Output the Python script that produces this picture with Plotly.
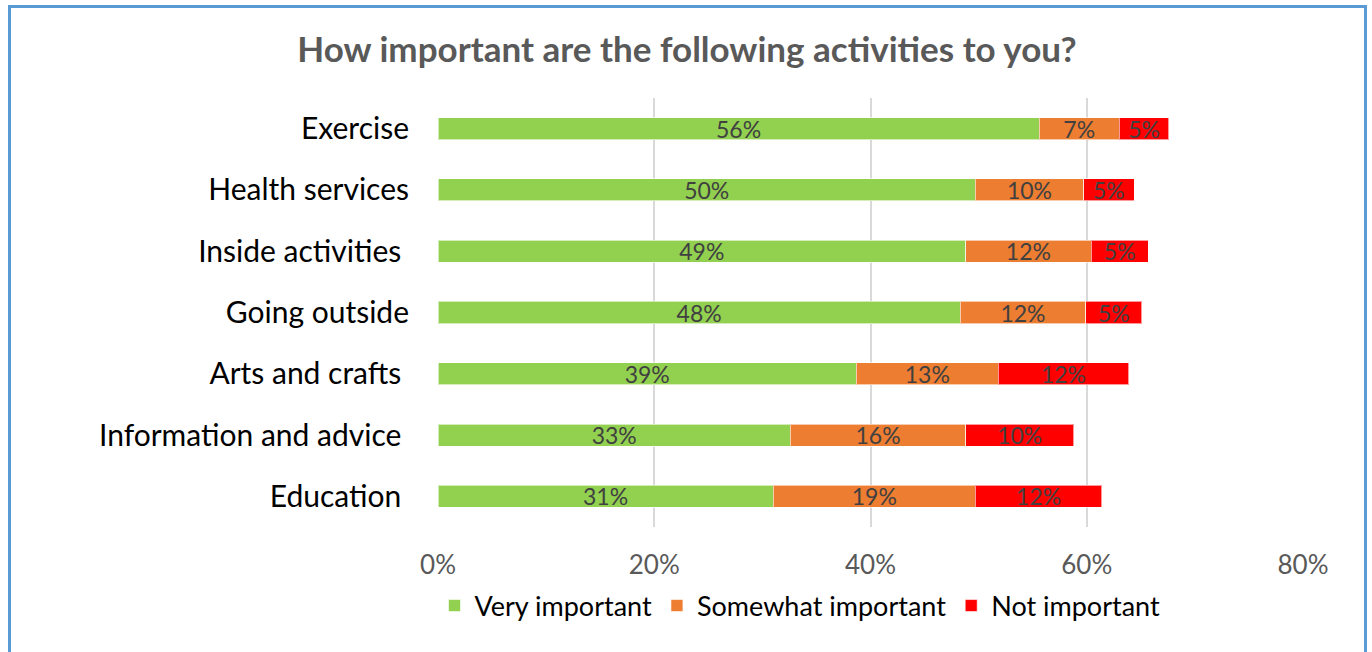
import plotly.graph_objects as go

categories = ["Exercise", "Health services", "Inside activities\u00a0", "Going outside",
              "Arts and crafts\u00a0", "Information and advice\u00a0", "Education\u00a0"]
very_important = [55.6, 49.7, 48.8, 48.3, 38.7, 32.6, 31.0]
somewhat_important = [7.4, 10.0, 11.6, 11.6, 13.1, 16.2, 18.7]
not_important = [4.6, 4.7, 5.3, 5.2, 12.1, 10.0, 11.7]
series_names = ["Very important", "Somewhat important", "Not important"]
colors = ["#92D050", "#ED7D31", "#FF0000"]
tick_vals = [0, 20, 40, 60, 80]
tick_text = ["0%", "20%", "40%", "60%", "80%"]

W, H = 1372, 652
L, R, T, B = 438, 69, 98, 125
pw, ph = W - L - R, H - T - B

def px(x):
    return (x - L) / pw

def py(y):
    return (H - B - y) / ph

FONT = "Lato"

fig = go.Figure()
for name, vals, col in zip(series_names, [very_important, somewhat_important, not_important], colors):
    fig.add_trace(go.Bar(
        y=categories, x=vals, name=name, orientation="h",
        marker=dict(color=col, line=dict(color="rgba(255,255,255,0.6)", width=1)),
        texttemplate="%{x:.0f}%", textposition="inside", insidetextanchor="middle",
        textangle=0, constraintext="none",
        textfont=dict(family=FONT, size=23, color="#404040"),
        hoverinfo="skip",
    ))

fig.update_layout(
    width=W, height=H,
    margin=dict(l=L, r=R, t=T, b=B, pad=0),
    barmode="stack", bargap=0.64,
    paper_bgcolor="white", plot_bgcolor="white",
    title=dict(text="<b>How important are the following activities to you?</b>",
               x=687 / W, xanchor="center", y=1 - 50 / H, yanchor="middle",
               font=dict(family=FONT, size=35, color="#595959")),
    xaxis=dict(range=[0, 80], tickvals=tick_vals, ticktext=tick_text,
               showgrid=True, gridcolor="#D9D9D9", gridwidth=2,
               zeroline=False, showline=False, ticks="",
               tickfont=dict(family=FONT, size=26, color="#595959"),
               ticklabelstandoff=20, fixedrange=True),
    yaxis=dict(autorange="reversed", showgrid=False, zeroline=False, showline=False,
               ticks="", ticklabelstandoff=28,
               tickfont=dict(family=FONT, size=30, color="#000000"), fixedrange=True),
    legend=dict(orientation="h", x=px(800), xanchor="center", y=py(606), yanchor="middle",
                font=dict(family=FONT, size=27, color="#000000"),
                itemwidth=30, traceorder="normal"),
    shapes=[
        dict(type="path", xref="paper", yref="paper",
             path=f"M {px(9.5)} {py(700)} L {px(9.5)} {py(6.5)} L {px(1365.5)} {py(6.5)} L {px(1365.5)} {py(700)}",
             line=dict(color="#5B9BD5", width=3)),
    ],
)

fig.write_html("out.html")
